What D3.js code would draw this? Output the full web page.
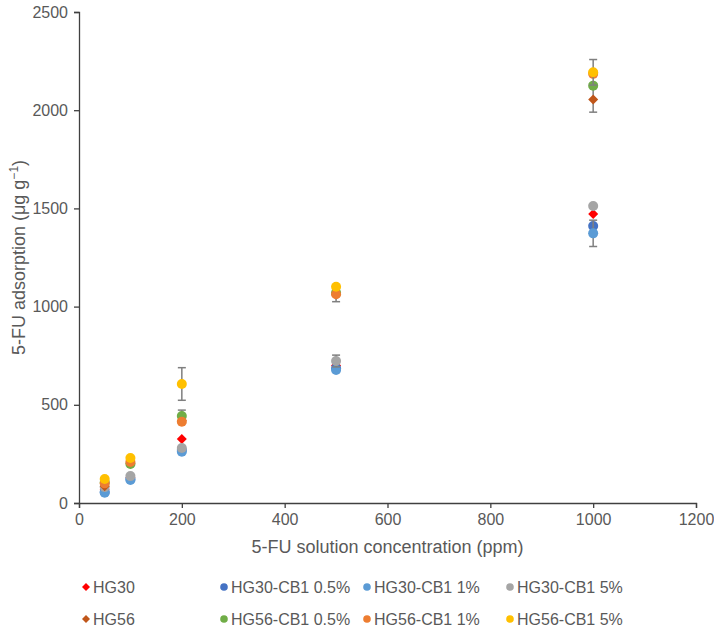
<!DOCTYPE html>
<html>
<head>
<meta charset="utf-8">
<script src="https://cdn.jsdelivr.net/npm/d3@7"></script>
<style>
  body { margin: 0; background: #fff; }
  text { font-family: "Liberation Sans", Arial, sans-serif; fill: #595959; }
</style>
</head>
<body>
<div class="chart"></div>
<script>
// Chart data
var concentrations = [50, 100, 200, 500, 1000];

var seriesNames = ["HG30", "HG30-CB1 0.5%", "HG30-CB1 1%", "HG30-CB1 5%",
                   "HG56", "HG56-CB1 0.5%", "HG56-CB1 1%", "HG56-CB1 5%"];

var hg30      = [70, 130, 326, 700, 1471];
var hg30cb05  = [56, 122, 270, 686, 1410];
var hg30cb1   = [52, 117, 261, 677, 1373];
var hg30cb5   = [81, 137, 280, 723, 1512];
var hg56      = [85, 200, 420, 1060, 2055];
var hg56cb05  = [105, 199, 443, 1070, 2125];
var hg56cb1   = [100, 209, 414, 1063, 2185];
var hg56cb5   = [122, 229, 606, 1101, 2193];

// error bar half-widths (only the visible ones)
var hg30Err     = [0, 0, 0, 0, 0];
var hg30cb05Err = [0, 0, 0, 0, 0];
var hg30cb1Err  = [0, 0, 0, 0, 67];
var hg30cb5Err  = [0, 0, 0, 30, 0];
var hg56Err     = [0, 0, 0, 0, 65];
var hg56cb05Err = [0, 0, 30, 0, 0];
var hg56cb1Err  = [0, 0, 0, 38, 0];
var hg56cb5Err  = [0, 0, 83, 0, 65];

var xTicks = [0, 200, 400, 600, 800, 1000, 1200];
var yTicks = [0, 500, 1000, 1500, 2000, 2500];

var seriesValues = [hg30, hg30cb05, hg30cb1, hg30cb5, hg56, hg56cb05, hg56cb1, hg56cb5];
var seriesErrors = [hg30Err, hg30cb05Err, hg30cb1Err, hg30cb5Err, hg56Err, hg56cb05Err, hg56cb1Err, hg56cb5Err];
var seriesColors = ["#ff0000", "#4472c4", "#5b9bd5", "#a5a5a5", "#c0561a", "#70ad47", "#ed7d31", "#ffc000"];
var seriesShapes = ["diamond", "circle", "circle", "circle", "diamond", "circle", "circle", "circle"];

// svg size and margins
var svgWidth = 714;
var svgHeight = 632;
var margin = { top: 12, right: 18, bottom: 129, left: 79 };
var width = svgWidth - margin.left - margin.right;
var height = svgHeight - margin.top - margin.bottom;

var svg = d3.select(".chart")
    .append("svg")
    .attr("width", svgWidth)
    .attr("height", svgHeight);

var chartGroup = svg.append("g")
    .attr("transform", `translate(${margin.left}, ${margin.top})`);

// scales
var xScale = d3.scaleLinear().domain([0, 1200]).range([0, width]);
var yScale = d3.scaleLinear().domain([0, 2500]).range([height, 0]);

// axes
var bottomAxis = d3.axisBottom(xScale).tickValues(xTicks).tickFormat(d3.format("d")).tickSize(5).tickPadding(6);
var leftAxis = d3.axisLeft(yScale).tickValues(yTicks).tickFormat(d3.format("d")).tickSize(5).tickPadding(6);

var xAxisG = chartGroup.append("g")
    .attr("transform", `translate(0, ${height})`)
    .call(bottomAxis);
var yAxisG = chartGroup.append("g").call(leftAxis);

[xAxisG, yAxisG].forEach(function(g) {
    g.select(".domain").attr("stroke", "#404040").attr("stroke-width", 1.3);
    g.selectAll(".tick line").attr("stroke", "#404040").attr("stroke-width", 1.3);
    g.selectAll(".tick text")
        .style("font-size", "16px")
        .style("font-family", "'Liberation Sans', Arial, sans-serif")
        .attr("fill", "#595959");
});

// rotated square for the diamond markers
var diamondPath = function(s) {
    return `M0,${-s}L${s},0L0,${s}L${-s},0Z`;
};

// draw each series: error bars then markers
seriesValues.forEach(function(vals, i) {
    var g = chartGroup.append("g");
    var pts = concentrations.map(function(c, j) {
        return { x: c, y: vals[j], e: seriesErrors[i][j] };
    });

    var eb = g.selectAll(".err")
        .data(pts.filter(d => d.e > 0))
        .enter()
        .append("g")
        .attr("stroke", "#7f7f7f")
        .attr("stroke-width", 1.5);
    eb.append("line")
        .attr("x1", d => xScale(d.x)).attr("x2", d => xScale(d.x))
        .attr("y1", d => yScale(d.y - d.e)).attr("y2", d => yScale(d.y + d.e));
    eb.append("line")
        .attr("x1", d => xScale(d.x) - 4).attr("x2", d => xScale(d.x) + 4)
        .attr("y1", d => yScale(d.y - d.e)).attr("y2", d => yScale(d.y - d.e));
    eb.append("line")
        .attr("x1", d => xScale(d.x) - 4).attr("x2", d => xScale(d.x) + 4)
        .attr("y1", d => yScale(d.y + d.e)).attr("y2", d => yScale(d.y + d.e));

    if (seriesShapes[i] === "diamond") {
        g.selectAll(".pt")
            .data(pts)
            .enter()
            .append("path")
            .attr("d", diamondPath(5))
            .attr("transform", d => `translate(${xScale(d.x)}, ${yScale(d.y)})`)
            .attr("fill", seriesColors[i]);
    } else {
        g.selectAll(".pt")
            .data(pts)
            .enter()
            .append("circle")
            .attr("cx", d => xScale(d.x))
            .attr("cy", d => yScale(d.y))
            .attr("r", 5)
            .attr("fill", seriesColors[i]);
    }
});

// axis titles
svg.append("text")
    .attr("x", margin.left + xScale(600))
    .attr("y", 553)
    .attr("text-anchor", "middle")
    .style("font-size", "18px")
    .text("5-FU solution concentration (ppm)");

var yTitle = svg.append("text")
    .attr("transform", `translate(25, ${margin.top + yScale(1250)}) rotate(-90)`)
    .attr("text-anchor", "middle")
    .style("font-size", "18px");
yTitle.append("tspan").text("5-FU adsorption (μg g");
yTitle.append("tspan").attr("dy", -7).style("font-size", "12px").text("−1");
yTitle.append("tspan").attr("dy", 7).text(")");

// legend, two rows of four
var legendX = [86, 224, 367, 510];
var legendY = [587, 619];
seriesNames.forEach(function(name, i) {
    var lx = legendX[i % 4];
    var ly = legendY[Math.floor(i / 4)];
    if (seriesShapes[i] === "diamond") {
        svg.append("path")
            .attr("d", diamondPath(4))
            .attr("transform", `translate(${lx}, ${ly})`)
            .attr("fill", seriesColors[i]);
    } else {
        svg.append("circle")
            .attr("cx", lx).attr("cy", ly).attr("r", 3.8)
            .attr("fill", seriesColors[i]);
    }
    svg.append("text")
        .attr("x", lx + 7)
        .attr("y", ly + 6)
        .style("font-size", "16px")
        .text(name);
});
</script>
</body>
</html>
